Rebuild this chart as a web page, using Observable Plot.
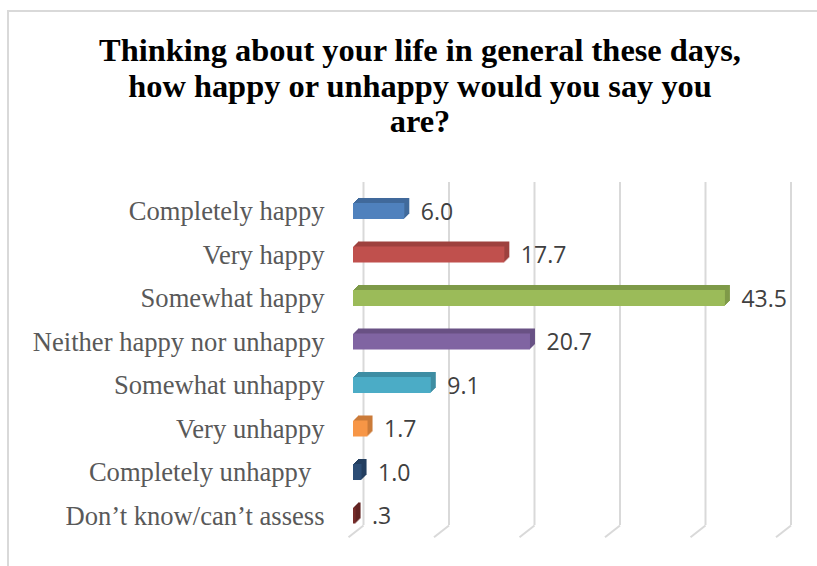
<!DOCTYPE html>
<html>
<head>
<meta charset="utf-8">
<script src="https://cdn.jsdelivr.net/npm/d3@7"></script>
<script src="https://cdn.jsdelivr.net/npm/@observablehq/plot@0.6"></script>
<style>
  html, body { margin: 0; padding: 0; background: #fff; overflow: hidden; width: 817px; height: 566px; }
  #frame { position: absolute; left: 7px; top: 10px; width: 900px; height: 700px;
           border-left: 2px solid #d9d9d9; border-top: 2px solid #d9d9d9; box-sizing: border-box; }
  #title { position: relative; width: 840px; height: 170px; box-sizing: border-box; padding-top: 33px;
           text-align: center; font-family: "Liberation Serif", "Times New Roman", serif; font-weight: bold;
           font-size: 32.4px; line-height: 35.5px; color: #000; }
  #chart { position: relative; }
</style>
</head>
<body>
<div id="frame"></div>
<div id="title">Thinking about your life in general these days,<br>how happy or unhappy would you say you<br>are?</div>
<div id="chart"></div>
<script>
const categories = [
  "Completely happy",
  "Very happy",
  "Somewhat happy",
  "Neither happy nor unhappy",
  "Somewhat unhappy",
  "Very unhappy",
  "Completely unhappy\u00a0\u00a0",
  "Don\u2019t know/can\u2019t assess"
];
const values = [6.0, 17.7, 43.5, 20.7, 9.1, 1.7, 1.0, 0.3];
const valueLabels = ["6.0", "17.7", "43.5", "20.7", "9.1", "1.7", "1.0", ".3"];
const colors = ["#4f81bd", "#c0504d", "#9bbb59", "#8064a2", "#4bacc6", "#f79646", "#2c4d75", "#772c2a"];
const gridTicks = [0, 10, 20, 30, 40, 50];

const rows = categories.map((c, i) => ({i, category: c, value: values[i], label: valueLabels[i], color: colors[i],
  dark: d3.color(colors[i]).darker(0.55).formatHex()}));

const width = 817, height = 396;
const marginLeft = 353, marginRight = 36.5;
const pxPerUnit = (width - marginLeft - marginRight) / 50;
const footDX = 15 / pxPerUnit;
const half = 0.184;
const depthSteps = [5, 4, 3, 2, 1];

const chart = Plot.plot({
  width, height,
  marginLeft, marginRight,
  marginTop: 19.25, marginBottom: 28.75,
  x: {domain: [0, 50], axis: null},
  y: {domain: [-0.5, 7.5], reverse: true, axis: null},
  marks: [
    Plot.ruleX(gridTicks, {x: d => d, y1: -0.667, y2: 7.218, dx: 10, stroke: "#d9d9d9", strokeWidth: 2}),
    Plot.link(gridTicks, {x1: d => d, x2: d => d - footDX, y1: 7.218, y2: 7.49, dx: 10, stroke: "#d9d9d9", strokeWidth: 2}),
    ...depthSteps.map(k => Plot.rect(rows, {x1: 0, x2: "value", y1: d => d.i - half, y2: d => d.i + half, dx: k, dy: -k, fill: "dark"})),
    Plot.rect(rows, {x1: 0, x2: "value", y1: d => d.i - half, y2: d => d.i + half, fill: "color"}),
    Plot.text(rows, {x: 0, y: "i", text: "category", dx: -29, textAnchor: "end",
      fontFamily: "Liberation Serif, Times New Roman, serif", fontSize: 26.6, fill: "#595959"}),
    Plot.text(rows, {x: "value", y: "i", text: "label", dx: 16, dy: 1, textAnchor: "start",
      fontFamily: "Open Sans, sans-serif", fontSize: 23, fill: "#404040"})
  ]
});
document.getElementById("chart").appendChild(chart);
</script>
</body>
</html>
